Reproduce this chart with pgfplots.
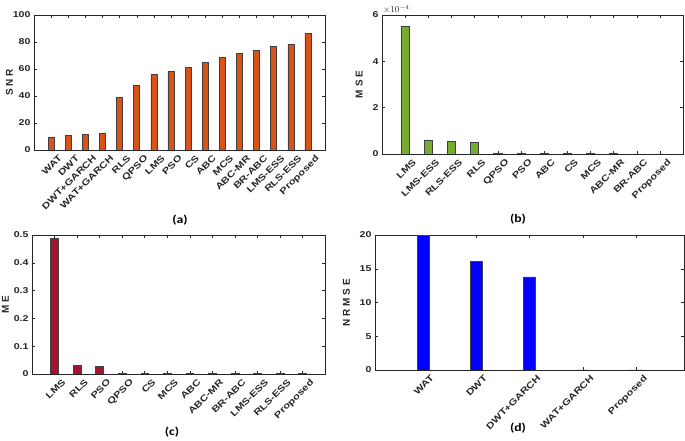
\documentclass[border=0pt]{standalone}
\usepackage{pgfplots}
\pgfplotsset{compat=1.18}
\usepackage{fontspec}
\setmainfont{Liberation Sans}
\newfontfamily\tickfont[FakeStretch=1.25]{Liberation Sans}
\newfontfamily\carlito[FakeStretch=1.2]{Carlito}

\definecolor{snrc}{RGB}{217,83,25}
\definecolor{msec}{RGB}{119,172,48}
\definecolor{mec}{RGB}{162,20,47}
\definecolor{nrmc}{RGB}{0,0,255}
\definecolor{axc}{RGB}{38,38,38}

\pgfplotsset{
  panel/.style={
    scale only axis,
    anchor=south west,
    ybar, bar width=0.35,
    axis line style={axc, line width=0.5pt},
    tick style={axc, line width=0.4pt},
    tick align=inside,
    major tick length=3pt,
    xtick pos=both, ytick pos=both,
    ymin=0,
    ticklabel style={font=\tickfont\fontsize{8.5}{9}\selectfont\bfseries, text=axc},
    /pgf/number format/assume math mode=true,
    x tick label style={font=\tickfont\fontsize{8.9}{9}\selectfont\bfseries,
      rotate=45, anchor=north east, inner sep=0pt, xshift=2bp, yshift=-8bp},
    ylabel style={font=\fontsize{10}{11}\selectfont\bfseries, text=axc},
    every axis plot/.append style={draw=black!75, line width=0.5pt},
  },
}

\begin{document}
\begin{tikzpicture}[x=1bp, y=1bp]
\useasboundingbox (0,0) rectangle (685,441);

% (a) SNR
\begin{axis}[panel,
    at={(34bp,291bp)}, width=291bp, height=135bp,
    xmin=0, xmax=17, ymax=100,
    ytick={0,20,40,60,80,100},
    xtick={1,...,16},
    xticklabels={WAT,DWT,DWT+GARCH,WAT+GARCH,RLS,QPSO,LMS,PSO,CS,ABC,MCS,ABC-MR,BR-ABC,LMS-ESS,RLS-ESS,Proposed},
    ylabel={S N R}, ylabel shift=-7bp,
  ]
  \addplot[fill=snrc] coordinates {
    (1,9.6) (2,10.7) (3,11.3) (4,12.5) (5,39.1) (6,47.8) (7,56.0)
    (8,58.4) (9,61.3) (10,64.8) (11,68.5) (12,71.6) (13,73.8)
    (14,76.6) (15,78.0) (16,86.4)
  };
\end{axis}

% (b) MSE
\begin{axis}[panel,
    at={(382bp,287bp)}, width=301bp, height=139bp,
    xmin=0, xmax=13, ymax=6e-4,
    ytick={0,2e-4,4e-4,6e-4},
    scaled y ticks=base 10:4,
    tick scale binop=\times,
    every y tick scale label/.style={at={(rel axis cs:0,1)}, anchor=south west,
      inner sep=1pt, font=\fontsize{9}{10}\selectfont, text=axc},
    xtick={1,...,12},
    xticklabels={LMS,LMS-ESS,RLS-ESS,RLS,QPSO,PSO,ABC,CS,MCS,ABC-MR,BR-ABC,Proposed},
    ylabel={M S E}, ylabel shift=3bp,
  ]
  \addplot[fill=msec] coordinates {
    (1,5.52e-4) (2,0.61e-4) (3,0.54e-4) (4,0.49e-4) (5,0.04e-4)
    (6,0.04e-4) (7,0.035e-4) (8,0.03e-4) (9,0.03e-4) (10,0.02e-4)
    (11,0.01e-4) (12,0.005e-4)
  };
\end{axis}

% (c) ME
\begin{axis}[panel,
    at={(32bp,67bp)}, width=293bp, height=139bp,
    xmin=0, xmax=13, ymax=0.5,
    ytick={0,0.1,0.2,0.3,0.4,0.5},
    yticklabel style={/pgf/number format/fixed},
    xtick={1,...,12},
    xticklabels={LMS,RLS,PSO,QPSO,CS,MCS,ABC,ABC-MR,BR-ABC,LMS-ESS,RLS-ESS,Proposed},
    ylabel={M E}, ylabel shift=-2bp,
  ]
  \addplot[fill=mec] coordinates {
    (1,0.487) (2,0.030) (3,0.028) (4,0.001) (5,0.001) (6,0.001)
    (7,0.001) (8,0.001) (9,0.001) (10,0.001) (11,0.001) (12,0.001)
  };
\end{axis}

% (d) NRMSE
\begin{axis}[panel,
    at={(375bp,71bp)}, width=309bp, height=135bp,
    xmin=0.1, xmax=5.9, ymax=20, bar width=0.22,
    ytick={0,5,10,15,20},
    xtick={1,...,5},
    xticklabels={WAT,DWT,DWT+GARCH,WAT+GARCH,Proposed},
    ylabel={N R M S E}, ylabel shift=3bp,
  ]
  \addplot[fill=nrmc] coordinates {
    (1,19.9) (2,16.05) (3,13.8) (4,0.01) (5,0.01)
  };
\end{axis}

\node[font=\carlito\fontsize{11.5}{13}\selectfont\bfseries] at (180,221) {(a)};
\node[font=\carlito\fontsize{11.5}{13}\selectfont\bfseries] at (518,222) {(b)};
\node[font=\carlito\fontsize{11.5}{13}\selectfont\bfseries] at (172,9) {(c)};
\node[font=\carlito\fontsize{11.5}{13}\selectfont\bfseries] at (518,13) {(d)};
\end{tikzpicture}
\end{document}
